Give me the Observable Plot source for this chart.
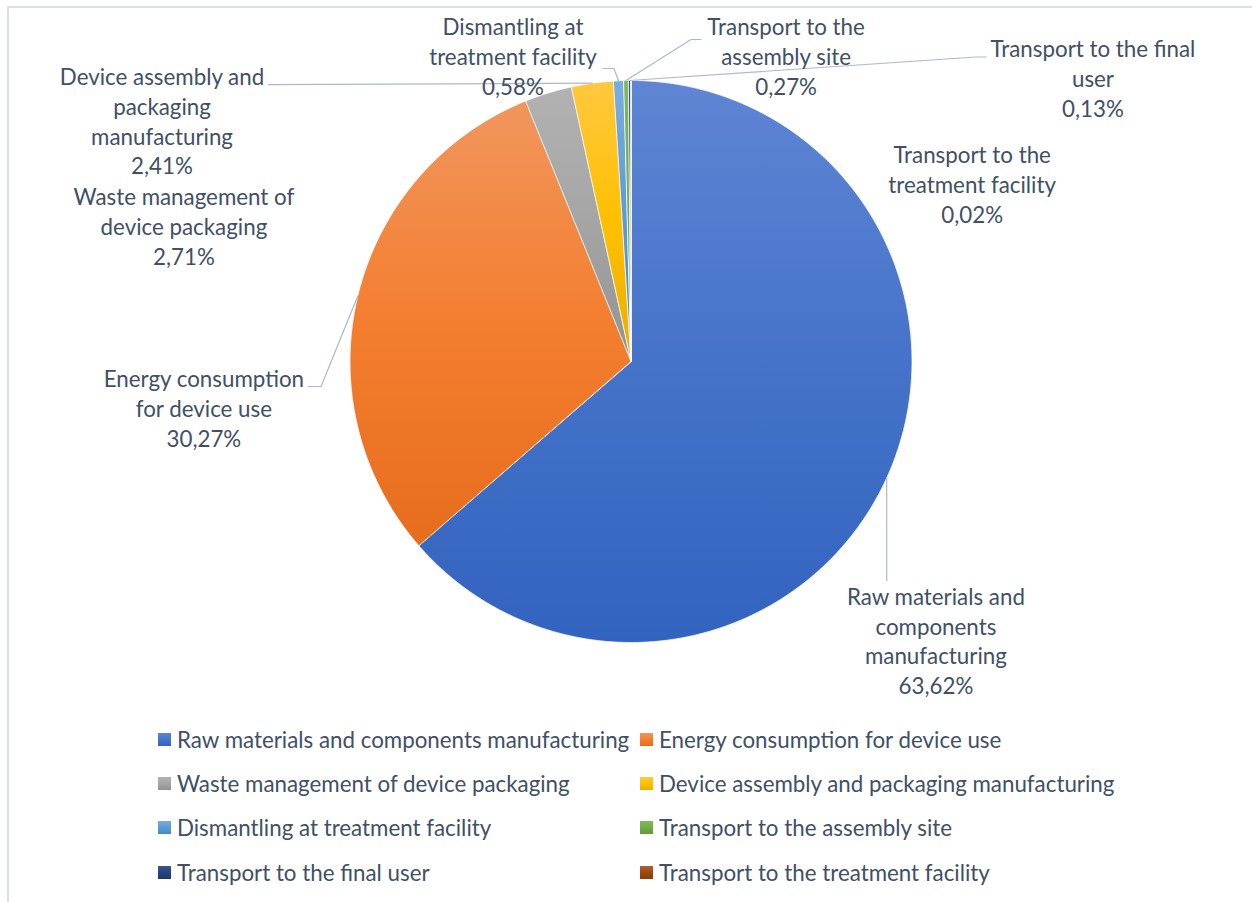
<!DOCTYPE html>
<html>
<head>
<meta charset="utf-8">
<script src="https://cdn.jsdelivr.net/npm/d3@7"></script>
<script src="https://cdn.jsdelivr.net/npm/@observablehq/plot@0.6"></script>
<style>
  html, body { margin: 0; padding: 0; background: #fff; overflow: hidden; }
  #wrap { position: relative; width: 1252px; height: 902px; }
  #frame { position: absolute; left: 7px; top: 6px; width: 1260px; height: 910px;
           border-top: 2px solid #DCE0E5; border-left: 2px solid #DCE0E5; box-sizing: border-box; }
  #chart { position: absolute; left: 0; top: 0; }
  #legend { position: absolute; left: 0; top: 717px; width: 1252px; height: 184px; }
  .item { position: absolute; display: flex; align-items: center; height: 44.4px; white-space: nowrap; color: #405066; }
  .sw { width: 13px; height: 13px; margin-right: 6px; flex: none; }
</style>
</head>
<body>
<div id="wrap">
  <div id="frame"></div>
  <div id="chart"></div>
  <div id="legend"></div>
</div>
<script>
// ---- data ----
const categories = [
  "Raw materials and components manufacturing",
  "Energy consumption for device use",
  "Waste management of device packaging",
  "Device assembly and packaging manufacturing",
  "Dismantling at treatment facility",
  "Transport to the assembly site",
  "Transport to the final user",
  "Transport to the treatment facility"
];
const shares = [63.62, 30.27, 2.71, 2.41, 0.58, 0.27, 0.13, 0.02];
const labelLines = [
  ["Raw materials and", "components", "manufacturing"],
  ["Energy consumption", "for device use"],
  ["Waste management of", "device packaging"],
  ["Device assembly and", "packaging", "manufacturing"],
  ["Dismantling at", "treatment facility"],
  ["Transport to the", "assembly site"],
  ["Transport to the final", "user"],
  ["Transport to the", "treatment facility"]
];
// gradient stops (top, middle, bottom) per slice
const gradients = [
  ["#5F85D4", "#4573C9", "#3263BF"],
  ["#F1965D", "#F47E30", "#E66D1C"],
  ["#B2B2B2", "#A5A5A5", "#929292"],
  ["#FFC83F", "#FFC000", "#E9AE00"],
  ["#7AADDF", "#5B9BD5", "#4789C9"],
  ["#82B85C", "#70AD47", "#5E9A37"],
  ["#3A5891", "#264478", "#1C386A"],
  ["#B25F33", "#9E480E", "#883B07"]
];

// ---- layout (in pie-radius units; centre = 0,0, y downward) ----
const labelAt = [
  [1.085, 0.991], [-1.52, 0.164], [-1.591, -0.484], [-1.669, -0.858],
  [-0.42, -1.089], [0.552, -1.089], [1.644, -1.011], [1.214, -0.633]
];
// leader elbows after the slice edge point (null = no leader line)
const leaderElbows = [
  [[null, 0.78]],
  [[-1.103, 0.089], [-1.149, 0.089]],
  null,
  [[-1.29, -0.985]],
  [[-0.0605, -1.0427], [-0.0996, -1.0427]],
  [[0.2135, -1.1459], [0.249, -1.1459]],
  [[1.2278, -1.0836], [1.2633, -1.0836]],
  null
];

const FONT = "Lato, 'Open Sans', sans-serif";
const TEXT = "#405066";
const LEADER = "#ADB9CA";

// font size chosen so the longest legend entry has the reference width
const ctx = document.createElement("canvas").getContext("2d");
ctx.font = `20px Lato`;
const fontSize = +(20 * 453 / ctx.measureText(categories[0]).width).toFixed(2);

const fmt = v => d3.format(".2f")(v).replace(".", ",") + "%";

const arcs = d3.pie().sort(null).value(d => d)(shares);

// slice polygons
const slicePts = [];
arcs.forEach((a, i) => {
  const name = categories[i];
  slicePts.push({name, x: 0, y: 0});
  const n = Math.max(2, Math.ceil((a.endAngle - a.startAngle) / 0.004));
  for (let k = 0; k <= n; k++) {
    const t = a.startAngle + (a.endAngle - a.startAngle) * k / n;
    slicePts.push({name, x: Math.sin(t), y: -Math.cos(t)});
  }
});

// leader lines
const leaderPts = [];
arcs.forEach((a, i) => {
  const el = leaderElbows[i];
  if (!el) return;
  const m = (a.startAngle + a.endAngle) / 2;
  const ex = Math.sin(m), ey = -Math.cos(m);
  leaderPts.push({name: categories[i], x: ex, y: ey});
  el.forEach(([x, y]) => leaderPts.push({name: categories[i], x: x == null ? ex : x, y}));
});

const labels = categories.map((c, i) => ({
  x: labelAt[i][0], y: labelAt[i][1],
  text: [...labelLines[i], fmt(shares[i])].join("\n")
}));

const chart = Plot.plot({
  width: 1252,
  height: 718,
  margin: 0,
  style: {fontFamily: FONT, background: "transparent"},
  x: {domain: [-1, 1], range: [349.5, 911.5], axis: null},
  y: {domain: [-1, 1], range: [80, 642], axis: null},
  color: {domain: categories, range: categories.map((d, i) => `url(#grad-${i})`)},
  marks: [
    Plot.line(slicePts, {x: "x", y: "y", z: "name", fill: "name", stroke: "#fff", strokeWidth: 0.8, curve: "linear-closed"}),
    Plot.line(leaderPts, {x: "x", y: "y", z: "name", stroke: LEADER, strokeWidth: 1.2}),
    Plot.text(labels, {x: "x", y: "y", text: "text", fill: TEXT, fontSize, lineHeight: 29.7 / fontSize, fontFamily: FONT})
  ]
});

// gradient definitions
const svg = d3.select(chart);
const defs = svg.insert("defs", ":first-child");
gradients.forEach((g, i) => {
  const lg = defs.append("linearGradient").attr("id", `grad-${i}`)
    .attr("x1", 0).attr("y1", 0).attr("x2", 0).attr("y2", 1);
  [0, 0.5, 1].forEach((o, k) => lg.append("stop").attr("offset", o).attr("stop-color", g[k]));
});
document.getElementById("chart").appendChild(chart);

// legend
const legend = d3.select("#legend");
categories.forEach((c, i) => {
  const col = i % 2, row = Math.floor(i / 2);
  const it = legend.append("div").attr("class", "item")
    .style("left", (col ? 640 : 158) + "px")
    .style("top", (row * 44.4) + "px")
    .style("font-family", FONT)
    .style("font-size", fontSize + "px");
  it.append("div").attr("class", "sw")
    .style("background", `linear-gradient(${gradients[i][0]}, ${gradients[i][1]}, ${gradients[i][2]})`);
  it.append("span").text(c);
});
</script>
</body>
</html>
